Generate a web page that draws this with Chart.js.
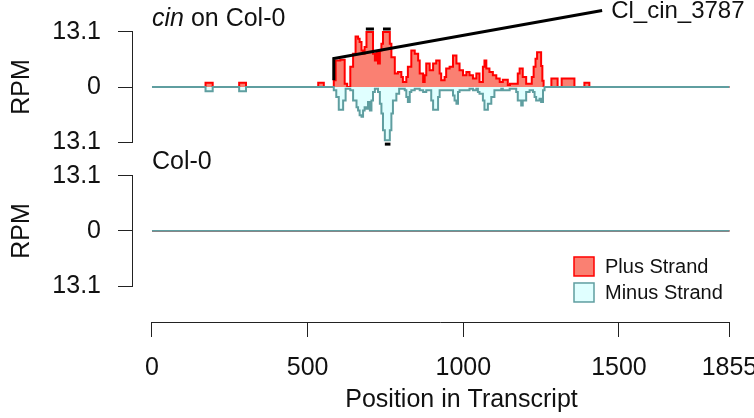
<!DOCTYPE html>
<html>
<head>
<meta charset="utf-8">
<script src="https://cdn.jsdelivr.net/npm/chart.js@4.4.1/dist/chart.umd.min.js"></script>
<style>
  html, body { margin: 0; padding: 0; background: #fff; overflow: hidden; }
  #wrap { width: 754px; height: 418px; overflow: hidden; position: relative; }
  #wrap canvas { position: absolute; left: 0; top: 0; }
</style>
</head>
<body>
<div id="wrap"><canvas id="profile" width="790" height="418"></canvas></div>
<script>
            const transcriptLength = 1855;
            const xTicks = [0, 500, 1000, 1500, 1855];
            const rpmTick = 13.1;

            // cin on Col-0, plus strand (step starts, RPM)
            const cinPlusPos = [0, 172, 195, 280, 302, 534, 552, 584, 590, 605, 619, 627, 637, 646, 654, 662, 667, 673, 678, 683,
                689, 710, 716, 721, 726, 732, 737, 742, 764, 769, 780, 790, 801, 806, 817, 822, 833, 844, 855, 860,
                871, 876, 881, 892, 903, 913, 924, 929, 940, 945, 956, 967, 978, 988, 999, 1010, 1020, 1031, 1042, 1052,
                1063, 1068, 1074, 1084, 1095, 1106, 1117, 1127, 1143, 1150, 1175, 1181, 1191, 1202, 1220, 1226, 1232, 1237, 1250, 1254,
                1258, 1283, 1303, 1316, 1357, 1389, 1405, 1855];
            const cinPlusRpm = [0, 1.0, 0, 1.0, 0, 1.0, 0, 1.6, 6.3, 6.5, 0.8, 0, 4.8, 7.9, 12.0, 11.5, 10.7, 8.7, 7.9, 9.5,
                13.1, 7.9, 6.3, 8.3, 5.6, 8.7, 10.3, 13.1, 10.3, 7.1, 3.2, 3.6, 2.4, 1.2, 2.4, 4.8, 8.7, 7.9, 6.3, 3.2,
                1.2, 2.8, 5.6, 4.0, 5.6, 6.3, 3.2, 1.6, 2.4, 4.4, 4.8, 7.5, 5.6, 4.0, 2.8, 3.6, 2.8, 2.0, 3.2, 1.2,
                4.8, 6.3, 4.4, 3.6, 2.8, 2.0, 1.2, 1.7, 0.5, 0.8, 3.2, 4.4, 2.4, 0.8, 2.4, 4.8, 6.7, 8.3, 5.0, 1.5,
                0, 2.0, 0, 2.0, 0, 1.0, 0, 0];

            // cin on Col-0, minus strand (step starts, RPM depth)
            const cinMinusPos = [0, 172, 195, 280, 302, 584, 592, 600, 614, 622, 637, 646, 657, 662, 667, 673, 678, 683, 689, 694,
                700, 705, 710, 716, 726, 732, 737, 742, 748, 764, 769, 774, 785, 794, 812, 817, 822, 828, 833, 844,
                860, 871, 881, 892, 897, 903, 919, 924, 967, 972, 978, 983, 988, 1020, 1031, 1042, 1047, 1052, 1063, 1068,
                1079, 1090, 1100, 1122, 1127, 1143, 1149, 1170, 1175, 1186, 1191, 1202, 1213, 1224, 1229, 1234, 1245, 1250, 1256, 1261,
                1855];
            const cinMinusRpm = [0, 1.0, 0, 1.0, 0, 0.8, 2.4, 5.4, 3.2, 0.4, 0.8, 3.2, 4.8, 5.6, 6.7, 7.1, 5.6, 4.8, 5.2, 3.6,
                5.6, 3.2, 1.2, 0.4, 1.2, 4.0, 6.3, 10.3, 12.7, 10.3, 6.3, 3.2, 1.6, 0.4, 0.8, 2.4, 3.6, 1.2, 0.8, 0.4,
                0.8, 1.2, 0.8, 0.8, 3.2, 5.4, 2.4, 0.8, 2.0, 3.2, 4.0, 1.2, 0.8, 0.4, 0.8, 0.4, 1.2, 1.6, 3.2, 5.4,
                4.0, 2.4, 0.8, 0.4, 0.8, 0.8, 0.4, 1.2, 3.2, 4.4, 3.2, 1.2, 0.8, 1.2, 2.4, 3.2, 2.8, 3.6, 0.8, 0,
                0];

            // Col-0 has no reads
            const colPos = [0, 1855];
            const colPlusRpm = [0, 0];
            const colMinusRpm = [0, 0];

            // peaks cut off at the axis limit
            const clipTopFrom = [687, 742];
            const clipTopTo = [713, 767];
            const clipBottomFrom = [748];
            const clipBottomTo = [766];

            // cluster annotation
            const clusterName = 'Cl_cin_3787';
            const clusterLine = [[584, 1.6], [584, 6.8], [1446, 18.2]];

            const FONT = '"Liberation Sans", Arial, Helvetica, sans-serif';
            Chart.defaults.font.family = FONT;

            const plusFill = '#FA8072';
            const plusLine = '#FF0000';
            const minusFill = '#E0FFFF';
            const minusLine = '#5F9EA0';

            const steps = (pos, vals, sign) => pos.map((p, i) => ({x: p, y: sign * vals[i]}));

            const clipMarks = (from, to, level) => {
                const pts = [];
                from.forEach((f, i) => {
                    pts.push({x: f, y: level}, {x: to[i], y: level}, {x: to[i] + 1, y: null});
                });
                return pts;
            };

            const strand = (label, data, yAxisID, fill, line, width) => ({
                label: label,
                data: data,
                yAxisID: yAxisID,
                stepped: true,
                fill: 'origin',
                backgroundColor: fill,
                borderColor: line,
                borderWidth: width,
                pointRadius: 0
            });

            const blackLine = (data, yAxisID) => ({
                data: data,
                yAxisID: yAxisID,
                borderColor: '#000',
                borderWidth: 3,
                pointRadius: 0,
                fill: false,
                spanGaps: false,
                clip: false
            });

            const panelY = (weight, stackWeight, min, max) => ({
                type: 'linear',
                position: 'left',
                stack: 'panels',
                stackWeight: stackWeight,
                weight: weight,
                min: min,
                max: max,
                afterBuildTicks: s => { s.ticks = [-rpmTick, 0, rpmTick].map(v => ({value: v})); },
                afterFit: s => { s.width = 133; s.paddingTop = 0; s.paddingBottom = 0; },
                grid: { drawOnChartArea: false, drawTicks: true, tickLength: 15, color: '#222', lineWidth: 1 },
                border: { display: false },
                ticks: {
                    padding: 17,
                    color: '#111',
                    font: { size: 25 },
                    callback: v => v === 0 ? '0' : Math.abs(v).toFixed(1)
                }
            });

            const panelDecor = {
                id: 'panelDecor',
                afterDraw(chart) {
                    const ctx = chart.ctx;
                    const x = chart.scales.x;
                    const area = chart.chartArea;
                    ctx.save();
                    ctx.strokeStyle = '#222';
                    ctx.lineWidth = 1;
                    // R style axis lines, only between the outer ticks
                    ['yTop', 'yBottom'].forEach(id => {
                        const y = chart.scales[id];
                        ctx.beginPath();
                        ctx.moveTo(area.left - 0.5, y.getPixelForValue(rpmTick));
                        ctx.lineTo(area.left - 0.5, y.getPixelForValue(-rpmTick));
                        ctx.stroke();
                    });
                    ctx.beginPath();
                    ctx.moveTo(x.getPixelForValue(0), area.bottom + 0.5);
                    ctx.lineTo(x.getPixelForValue(transcriptLength), area.bottom + 0.5);
                    ctx.stroke();

                    ctx.fillStyle = '#111';
                    ctx.textBaseline = 'middle';
                    // y titles
                    ['yTop', 'yBottom'].forEach(id => {
                        const y = chart.scales[id];
                        ctx.save();
                        ctx.translate(22, y.getPixelForValue(0));
                        ctx.rotate(-Math.PI / 2);
                        ctx.textAlign = 'center';
                        ctx.font = '25px ' + FONT;
                        ctx.fillText('RPM', 0, 0);
                        ctx.restore();
                    });
                    // panel titles
                    const tx = x.getPixelForValue(0);
                    const topY = chart.scales.yTop.getPixelForValue(rpmTick) - 13;
                    ctx.textAlign = 'left';
                    ctx.font = 'italic 25px ' + FONT;
                    ctx.fillText('cin', tx, topY);
                    const w = ctx.measureText('cin').width;
                    ctx.font = '25px ' + FONT;
                    ctx.fillText(' on Col-0', tx + w, topY);
                    ctx.fillText('Col-0', tx, chart.scales.yBottom.getPixelForValue(rpmTick) - 14);

                    // cluster label
                    const end = clusterLine[clusterLine.length - 1];
                    ctx.font = '24px ' + FONT;
                    ctx.fillText(clusterName, x.getPixelForValue(end[0]) + 9,
                        chart.scales.yTop.getPixelForValue(end[1]) + 1);

                    // legend
                    const lx = area.right - 216;
                    const ly = chart.scales.yBottom.getPixelForValue(0) + 26;
                    const items = [[ 'Plus Strand', plusFill, plusLine ], [ 'Minus Strand', minusFill, minusLine ]];
                    ctx.font = '20px ' + FONT;
                    items.forEach((it, i) => {
                        const by = ly + i * 26;
                        ctx.fillStyle = it[1];
                        ctx.fillRect(lx, by, 20, 19);
                        ctx.strokeStyle = it[2];
                        ctx.lineWidth = 1.5;
                        ctx.strokeRect(lx, by, 20, 19);
                        ctx.fillStyle = '#111';
                        ctx.fillText(it[0], lx + 31, by + 10);
                    });
                    ctx.restore();
                }
            };

            // first dataset is drawn on top: minus strand and marks go first
            const profileCfg = {
                type: 'line',
                data: {
                    datasets: [
                        blackLine(clusterLine.map(p => ({x: p[0], y: p[1]})), 'yTop'),
                        blackLine(clipMarks(clipTopFrom, clipTopTo, 13.8), 'yTop'),
                        blackLine(clipMarks(clipBottomFrom, clipBottomTo, -13.6), 'yTop'),
                        strand('Minus Strand', steps(cinMinusPos, cinMinusRpm, -1), 'yTop', minusFill, minusLine, 2),
                        strand('Plus Strand', steps(cinPlusPos, cinPlusRpm, 1), 'yTop', plusFill, plusLine, 2),
                        strand('Minus Strand', steps(colPos, colMinusRpm, -1), 'yBottom', minusFill, minusLine, 1.75),
                        strand('Plus Strand', steps(colPos, colPlusRpm, 1), 'yBottom', plusFill, plusLine, 1.75)
                    ]
                },
                options: {
                    responsive: false,
                    animation: false,
                    events: [],
                    layout: { padding: { top: 15, left: 0, right: 0, bottom: 0 } },
                    plugins: { legend: { display: false }, tooltip: { enabled: false } },
                    scales: {
                        x: {
                            type: 'linear',
                            min: -61,
                            max: 2049.5,
                            afterBuildTicks: s => { s.ticks = xTicks.map(v => ({value: v})); },
                            afterFit: s => { s.height = 96; },
                            grid: { drawOnChartArea: false, tickLength: 15, color: '#222' },
                            border: { display: false },
                            ticks: { padding: 16, color: '#111', font: { size: 25 }, maxRotation: 0, autoSkip: false,
                                callback: v => String(v) },
                            title: { display: true, text: 'Position in Transcript', color: '#111',
                                font: { size: 25 }, padding: { top: 0, bottom: 3 } }
                        },
                        yTop: panelY(2, 144, -17.14, 17.14),
                        yBottom: panelY(1, 163, -21.67, 17.14)
                    }
                },
                plugins: [panelDecor]
            };

            const profile = new Chart(
                document.getElementById('profile'),
                profileCfg
            );
</script>
</body>
</html>
